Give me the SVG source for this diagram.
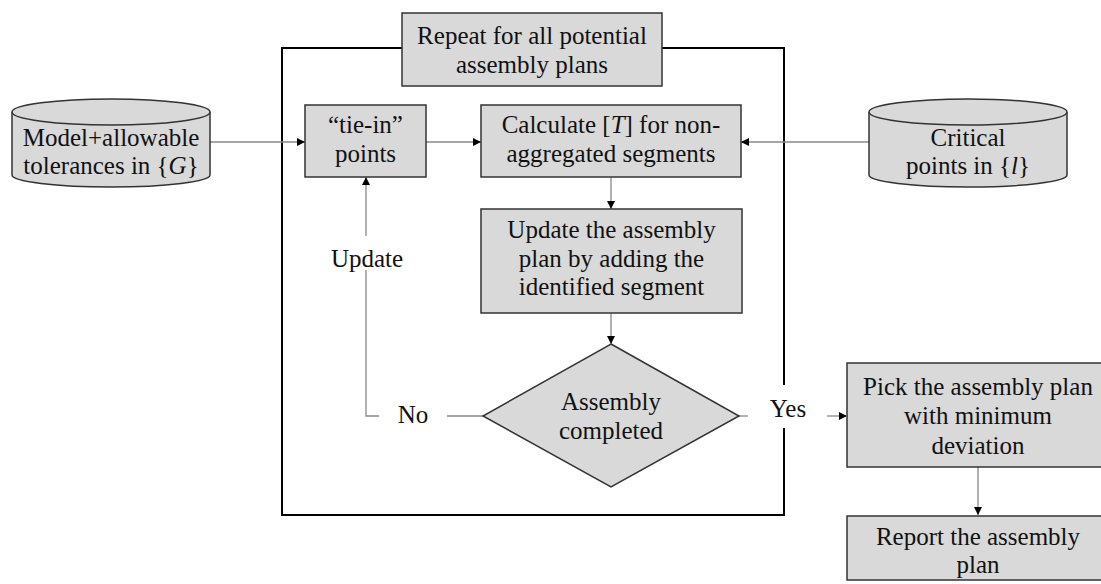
<svg xmlns="http://www.w3.org/2000/svg" width="1101" height="584" viewBox="0 0 1101 584">
<defs>
<marker id="ah" viewBox="0 0 10 10" refX="10" refY="5" markerWidth="8" markerHeight="8" markerUnits="userSpaceOnUse" orient="auto">
<path d="M0,0 L10,5 L0,10 z" fill="#000"/>
</marker>
<style>
.box{fill:#d9d9d9;stroke:#333;stroke-width:1.5}
.t{font-family:'Liberation Serif','DejaVu Serif',serif;font-size:25px;fill:#111;text-anchor:middle}
.m{font-style:italic}
.c{fill:none;stroke:#888;stroke-width:1.3}
.frame{fill:none;stroke:#000;stroke-width:2}
</style>
</defs>
<rect width="1101" height="584" fill="#fff"/>
<g id="frame">
<path class="frame" d="M402,48 H282 V515 H784 V428 M784,385 V48 H662"/>
</g>
<g id="connectors">
<path class="c" d="M210,142 H305" marker-end="url(#ah)"/>
<path class="c" d="M426,142 H481" marker-end="url(#ah)"/>
<path class="c" d="M869,142 H741" marker-end="url(#ah)"/>
<path class="c" d="M611,177 V209" marker-end="url(#ah)"/>
<path class="c" d="M611,313 V344" marker-end="url(#ah)"/>
<path class="c" d="M483,416 H447"/>
<path class="c" d="M379,416 H366 V270"/>
<path class="c" d="M366,236 V177" marker-end="url(#ah)"/>
<path class="c" d="M739,416 H748"/>
<path class="c" d="M827,416 H847" marker-end="url(#ah)"/>
<path class="c" d="M978,467 V515" marker-end="url(#ah)"/>
</g>
<g id="model">
<path class="box" d="M12,112 V175 A99,12 0 0 0 210,175 V112 A99,13 0 0 0 12,112 Z"/>
<path class="box" d="M12,112 A99,13 0 0 0 210,112" fill="none"/>
<text class="t" x="111" y="146">Model+allowable</text>
<text class="t" x="111" y="174">tolerances in {<tspan class="m">G</tspan>}</text>
</g>
<g id="critical">
<path class="box" d="M869,112 V175 A99,12 0 0 0 1067,175 V112 A99,13 0 0 0 869,112 Z"/>
<path class="box" d="M869,112 A99,13 0 0 0 1067,112" fill="none"/>
<text class="t" x="968" y="146">Critical</text>
<text class="t" x="968" y="174">points in {<tspan class="m">l</tspan>}</text>
</g>
<g id="repeat">
<rect class="box" x="402" y="13" width="260" height="73"/>
<text class="t" x="532" y="44">Repeat for all potential</text>
<text class="t" x="532" y="73">assembly plans</text>
</g>
<g id="tiein">
<rect class="box" x="305" y="105" width="121" height="72"/>
<text class="t" x="365.5" y="133">“tie-in”</text>
<text class="t" x="365.5" y="162">points</text>
</g>
<g id="calc">
<rect class="box" x="481" y="105" width="260" height="72"/>
<text class="t" x="611" y="133">Calculate [<tspan class="m">T</tspan>] for non-</text>
<text class="t" x="611" y="162">aggregated segments</text>
</g>
<g id="update">
<rect class="box" x="481" y="209" width="261" height="104"/>
<text class="t" x="611.5" y="238">Update the assembly</text>
<text class="t" x="611.5" y="267">plan by adding the</text>
<text class="t" x="611.5" y="295">identified segment</text>
</g>
<g id="decision">
<polygon class="box" points="611,344 739,416 611,487 483,416"/>
<text class="t" x="611" y="410">Assembly</text>
<text class="t" x="611" y="439">completed</text>
</g>
<g id="labels">
<text class="t" x="367" y="267">Update</text>
<text class="t" x="413" y="423">No</text>
<text class="t" x="788" y="417">Yes</text>
</g>
<g id="pick">
<rect class="box" x="847" y="363" width="262" height="104"/>
<text class="t" x="978" y="395">Pick the assembly plan</text>
<text class="t" x="978" y="424">with minimum</text>
<text class="t" x="978" y="454">deviation</text>
</g>
<g id="report">
<rect class="box" x="847" y="516" width="262" height="64"/>
<text class="t" x="978" y="545">Report the assembly</text>
<text class="t" x="978" y="573">plan</text>
</g>
</svg>
